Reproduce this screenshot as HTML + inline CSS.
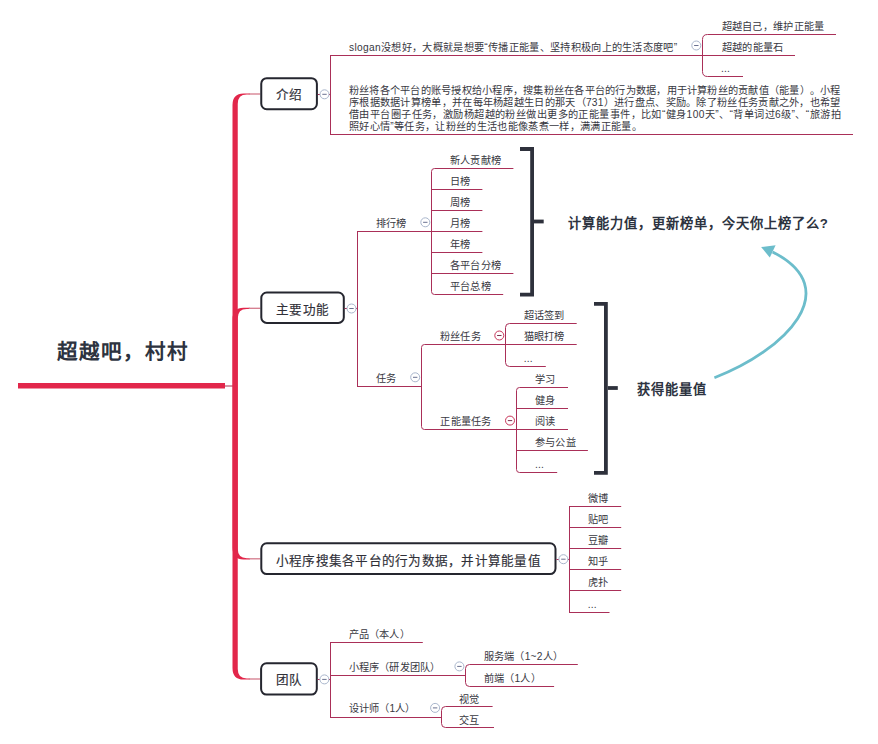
<!DOCTYPE html>
<html lang="zh-CN"><head><meta charset="utf-8"><style>
html,body{margin:0;padding:0;background:#fff;}
body{width:878px;height:744px;position:relative;overflow:hidden;font-family:"Liberation Sans",sans-serif;}
svg{position:absolute;left:0;top:0;}
.t{text-spacing-trim:space-all;position:absolute;white-space:nowrap;line-height:20px;font-size:10.2px;color:#38383f;}
.j{text-align:justify;text-align-last:justify;white-space:normal;height:20px;overflow:visible;}
</style></head><body>
<svg width="878" height="744" viewBox="0 0 878 744">
<rect x="18" y="383" width="207" height="5.5" fill="#e2274b"/>
<line x1="225" y1="386" x2="233" y2="386" stroke="#a83050" stroke-width="1"/>
<path d="M 232.5 386 V 105 Q 232.5 93.4 243.5 93.4 L 249.75 93.4 L 249.75 94.6 L 246.75 94.6 Q 237.75 94.6 237.75 104 V 386 Z" fill="#e2274b"/>
<line x1="248.75" y1="94" x2="260.3" y2="94" stroke="#d47a8c" stroke-width="1.3"/>
<path d="M 232.5 386 V 319.3 Q 232.5 307.7 243.5 307.7 L 249.75 307.7 L 249.75 308.90000000000003 L 246.75 308.90000000000003 Q 237.75 308.90000000000003 237.75 318.3 V 386 Z" fill="#e2274b"/>
<line x1="248.75" y1="308.3" x2="260.3" y2="308.3" stroke="#d47a8c" stroke-width="1.3"/>
<path d="M 232.5 386 V 547.8 Q 232.5 559.4 243.5 559.4 L 249.75 559.4 L 249.75 558.1999999999999 L 246.75 558.1999999999999 Q 237.75 558.1999999999999 237.75 548.8 V 386 Z" fill="#e2274b"/>
<line x1="248.75" y1="558.8" x2="260.3" y2="558.8" stroke="#d47a8c" stroke-width="1.3"/>
<path d="M 232.5 386 V 668 Q 232.5 679.6 243.5 679.6 L 249.75 679.6 L 249.75 678.4 L 246.75 678.4 Q 237.75 678.4 237.75 669 V 386 Z" fill="#e2274b"/>
<line x1="248.75" y1="679" x2="260.3" y2="679" stroke="#d47a8c" stroke-width="1.3"/>
<rect x="261.25" y="78.2" width="55.64999999999998" height="31.0" rx="5.5" fill="#fff" stroke="#25262f" stroke-width="2"/>
<rect x="261.3" y="292.5" width="82.5" height="30.399999999999977" rx="5.5" fill="#fff" stroke="#25262f" stroke-width="2"/>
<rect x="261.3" y="543.3" width="294.2" height="30.800000000000068" rx="5.5" fill="#fff" stroke="#25262f" stroke-width="2"/>
<rect x="261.1" y="663.3" width="55.69999999999999" height="31.300000000000068" rx="5.5" fill="#fff" stroke="#25262f" stroke-width="2"/>
<line x1="317.9" y1="94.5" x2="330" y2="94.5" stroke="#aa2f58" stroke-width="1"/>
<circle cx="324.5" cy="94.3" r="4.5" fill="#fff" stroke="#a9b6cc" stroke-width="1"/>
<line x1="322.3" y1="94.3" x2="326.7" y2="94.3" stroke="#6a7190" stroke-width="1"/>
<line x1="330.5" y1="55.5" x2="330.5" y2="135.0" stroke="#aa2f58" stroke-width="1"/>
<line x1="330.0" y1="55.5" x2="703" y2="55.5" stroke="#aa2f58" stroke-width="1"/>
<line x1="330.0" y1="134.5" x2="853" y2="134.5" stroke="#aa2f58" stroke-width="1"/>
<circle cx="696.3" cy="45.5" r="4.5" fill="#fff" stroke="#a9b6cc" stroke-width="1"/>
<line x1="694.0999999999999" y1="45.5" x2="698.5" y2="45.5" stroke="#6a7190" stroke-width="1"/>
<path d="M 836 34.5 H 707.5 Q 702.5 34.5 702.5 39.5 V 71.5 Q 702.5 76.5 707.5 76.5 H 743" stroke="#aa2f58" stroke-width="1" fill="none"/>
<line x1="702.5" y1="55.5" x2="795" y2="55.5" stroke="#aa2f58" stroke-width="1"/>
<line x1="344.8" y1="308.5" x2="357" y2="308.5" stroke="#aa2f58" stroke-width="1"/>
<circle cx="351.5" cy="308.5" r="4.5" fill="#fff" stroke="#a9b6cc" stroke-width="1"/>
<line x1="349.3" y1="308.5" x2="353.7" y2="308.5" stroke="#6a7190" stroke-width="1"/>
<line x1="357.5" y1="231.5" x2="357.5" y2="387.0" stroke="#aa2f58" stroke-width="1"/>
<line x1="357.0" y1="231.5" x2="431" y2="231.5" stroke="#aa2f58" stroke-width="1"/>
<line x1="357.0" y1="386.5" x2="421.5" y2="386.5" stroke="#aa2f58" stroke-width="1"/>
<line x1="406" y1="222.5" x2="431" y2="222.5" stroke="#aa2f58" stroke-width="0"/>
<circle cx="425.3" cy="222.3" r="4.5" fill="#fff" stroke="#a9b6cc" stroke-width="1"/>
<line x1="423.1" y1="222.3" x2="427.5" y2="222.3" stroke="#6a7190" stroke-width="1"/>
<path d="M 513.4 168.5 H 434.5 Q 431.5 168.5 431.5 171.5 V 291.5 Q 431.5 294.5 434.5 294.5 H 503.2" stroke="#aa2f58" stroke-width="1" fill="none"/>
<line x1="431.5" y1="189.5" x2="482.4" y2="189.5" stroke="#aa2f58" stroke-width="1"/>
<line x1="431.5" y1="210.5" x2="482.4" y2="210.5" stroke="#aa2f58" stroke-width="1"/>
<line x1="431.5" y1="231.5" x2="482.4" y2="231.5" stroke="#aa2f58" stroke-width="1"/>
<line x1="431.5" y1="252.5" x2="482.4" y2="252.5" stroke="#aa2f58" stroke-width="1"/>
<line x1="431.5" y1="273.5" x2="513.4" y2="273.5" stroke="#aa2f58" stroke-width="1"/>
<circle cx="415.2" cy="377.3" r="4.5" fill="#fff" stroke="#a9b6cc" stroke-width="1"/>
<line x1="413.0" y1="377.3" x2="417.4" y2="377.3" stroke="#6a7190" stroke-width="1"/>
<path d="M 505.8 344.5 H 424.5 Q 421.5 344.5 421.5 347.5 V 426.5 Q 421.5 429.5 424.5 429.5 H 516.5" stroke="#aa2f58" stroke-width="1" fill="none"/>
<circle cx="499.3" cy="335.5" r="4.5" fill="#fff" stroke="#c83458" stroke-width="1"/>
<line x1="497.1" y1="335.5" x2="501.5" y2="335.5" stroke="#7a3050" stroke-width="1"/>
<path d="M 576.7 323.5 H 509.5 Q 505.5 323.5 505.5 327.5 V 362.5 Q 505.5 366.5 509.5 366.5 H 545.8" stroke="#aa2f58" stroke-width="1" fill="none"/>
<line x1="505.5" y1="344.5" x2="576.7" y2="344.5" stroke="#aa2f58" stroke-width="1"/>
<circle cx="510" cy="420.6" r="4.5" fill="#fff" stroke="#c83458" stroke-width="1"/>
<line x1="507.8" y1="420.6" x2="512.2" y2="420.6" stroke="#7a3050" stroke-width="1"/>
<path d="M 568 387.5 H 519.5 Q 516.5 387.5 516.5 390.5 V 469.5 Q 516.5 472.5 519.5 472.5 H 557.2" stroke="#aa2f58" stroke-width="1" fill="none"/>
<line x1="516.5" y1="408.5" x2="568" y2="408.5" stroke="#aa2f58" stroke-width="1"/>
<line x1="516.5" y1="429.5" x2="568" y2="429.5" stroke="#aa2f58" stroke-width="1"/>
<line x1="516.5" y1="450.5" x2="587.9" y2="450.5" stroke="#aa2f58" stroke-width="1"/>
<path d="M 520 149.0 H 532.1 V 294.70000000000005 H 520" stroke="#2e313c" stroke-width="3.8" fill="none"/>
<line x1="534" y1="221.5" x2="543.7" y2="221.5" stroke="#2e313c" stroke-width="3.8"/>
<path d="M 594 303.9 H 605.9 V 472.8 H 594" stroke="#2e313c" stroke-width="3.8" fill="none"/>
<line x1="607.8" y1="388" x2="617.8" y2="388" stroke="#2e313c" stroke-width="3.8"/>
<path d="M 714.4 377.7 C 785.6 350.2, 846.0 289.1, 772.6 251.9" stroke="#6cbdcb" stroke-width="2.8" fill="none"/>
<path d="M 761.1 247.0 L 775.6 245.2 L 769.8 257.6 Z" fill="#6cbdcb"/>
<line x1="556.5" y1="559.5" x2="569.5" y2="559.5" stroke="#aa2f58" stroke-width="1"/>
<circle cx="563.4" cy="559.2" r="4.5" fill="#fff" stroke="#a9b6cc" stroke-width="1"/>
<line x1="561.1999999999999" y1="559.2" x2="565.6" y2="559.2" stroke="#6a7190" stroke-width="1"/>
<line x1="569.5" y1="506.5" x2="569.5" y2="613.0" stroke="#aa2f58" stroke-width="1"/>
<line x1="569.0" y1="506.5" x2="621.2" y2="506.5" stroke="#aa2f58" stroke-width="1"/>
<line x1="569.0" y1="527.5" x2="621.2" y2="527.5" stroke="#aa2f58" stroke-width="1"/>
<line x1="569.0" y1="548.5" x2="621.2" y2="548.5" stroke="#aa2f58" stroke-width="1"/>
<line x1="569.0" y1="569.5" x2="621.2" y2="569.5" stroke="#aa2f58" stroke-width="1"/>
<line x1="569.0" y1="590.5" x2="621.2" y2="590.5" stroke="#aa2f58" stroke-width="1"/>
<line x1="569.0" y1="612.5" x2="609.5" y2="612.5" stroke="#aa2f58" stroke-width="1"/>
<line x1="317.8" y1="679.5" x2="330.5" y2="679.5" stroke="#aa2f58" stroke-width="1"/>
<circle cx="324.4" cy="679.4" r="4.5" fill="#fff" stroke="#a9b6cc" stroke-width="1"/>
<line x1="322.2" y1="679.4" x2="326.59999999999997" y2="679.4" stroke="#6a7190" stroke-width="1"/>
<line x1="330.5" y1="642.5" x2="330.5" y2="718.0" stroke="#aa2f58" stroke-width="1"/>
<line x1="330.0" y1="642.5" x2="422.8" y2="642.5" stroke="#aa2f58" stroke-width="1"/>
<line x1="330.0" y1="675.5" x2="465.5" y2="675.5" stroke="#aa2f58" stroke-width="1"/>
<line x1="330.0" y1="717.5" x2="441.2" y2="717.5" stroke="#aa2f58" stroke-width="1"/>
<circle cx="459.4" cy="666.4" r="4.5" fill="#fff" stroke="#a9b6cc" stroke-width="1"/>
<line x1="457.2" y1="666.4" x2="461.59999999999997" y2="666.4" stroke="#6a7190" stroke-width="1"/>
<path d="M 577.8 664.5 H 469.5 Q 465.5 664.5 465.5 668.5 V 682.5 Q 465.5 686.5 469.5 686.5 H 554.1" stroke="#aa2f58" stroke-width="1" fill="none"/>
<circle cx="435.1" cy="707.9" r="4.5" fill="#fff" stroke="#a9b6cc" stroke-width="1"/>
<line x1="432.90000000000003" y1="707.9" x2="437.3" y2="707.9" stroke="#6a7190" stroke-width="1"/>
<path d="M 492.6 706.5 H 445.5 Q 441.5 706.5 441.5 710.5 V 723.5 Q 441.5 727.5 445.5 727.5 H 494" stroke="#aa2f58" stroke-width="1" fill="none"/>
</svg>
<div class="t" style="left:57px;top:342.1px;font-size:20.5px;font-weight:700;color:#2d3340;letter-spacing:2.1px;">超越吧，村村</div>
<div class="t" style="left:276.1px;top:84.8px;font-size:12.6px;font-weight:500;color:#303038;letter-spacing:0.25px;-webkit-text-stroke:0.15px #303038">介绍</div>
<div class="t" style="left:276.2px;top:300.0px;font-size:12.6px;font-weight:500;color:#303038;letter-spacing:0.25px;-webkit-text-stroke:0.15px #303038">主要功能</div>
<div class="t" style="left:275.8px;top:550.9px;font-size:12.6px;font-weight:500;color:#303038;letter-spacing:0.25px;-webkit-text-stroke:0.15px #303038">小程序搜集各平台的行为数据，并计算能量值</div>
<div class="t" style="left:275.8px;top:669.9px;font-size:12.6px;font-weight:500;color:#303038;letter-spacing:0.25px;-webkit-text-stroke:0.15px #303038">团队</div>
<div class="t" style="left:349px;top:38.0px;font-size:10.2px;font-weight:400;color:#38383f;letter-spacing:0.325px;">slogan没想好，大概就是想要“传播正能量、坚持积极向上的生活态度吧”</div>
<div class="t" style="left:721.5px;top:16.9px;font-size:10.2px;font-weight:400;color:#38383f;letter-spacing:0.33px;">超越自己，维护正能量</div>
<div class="t" style="left:721.5px;top:38.0px;font-size:10.2px;font-weight:400;color:#38383f;letter-spacing:0.4px;">超越的能量石</div>
<div class="t" style="left:721px;top:59.0px;font-size:10.2px;font-weight:400;color:#38383f;letter-spacing:0.2px;">...</div>
<div class="t" style="left:349px;top:80.9px;font-size:10.2px;font-weight:400;color:#38383f;letter-spacing:0.242px;">粉丝将各个平台的账号授权给小程序，搜集粉丝在各平台的行为数据，用于计算粉丝的贡献值（能量）。小程</div>
<div class="t" style="left:349px;top:92.97px;font-size:10.2px;font-weight:400;color:#38383f;letter-spacing:0.3px;">序根据数据计算榜单，并在每年杨超越生日的那天（731）进行盘点、奖励。除了粉丝任务贡献之外，也希望</div>
<div class="t" style="left:349px;top:105.04px;font-size:10.2px;font-weight:400;color:#38383f;letter-spacing:0.43px;">借由平台圈子任务，激励杨超越的粉丝做出更多的正能量事件，比如“健身100天”、“背单词过6级”、“旅游拍</div>
<div class="t" style="left:349px;top:117.11000000000001px;font-size:10.2px;font-weight:400;color:#38383f;letter-spacing:0.33px;">照好心情”等任务，让粉丝的生活也能像蒸煮一样，满满正能量。</div>
<div class="t" style="left:376px;top:213.7px;font-size:10.2px;font-weight:400;color:#38383f;letter-spacing:0.2px;">排行榜</div>
<div class="t" style="left:450px;top:150.5px;font-size:10.2px;font-weight:400;color:#38383f;letter-spacing:0.2px;">新人贡献榜</div>
<div class="t" style="left:450px;top:171.5px;font-size:10.2px;font-weight:400;color:#38383f;letter-spacing:0.2px;">日榜</div>
<div class="t" style="left:450px;top:192.5px;font-size:10.2px;font-weight:400;color:#38383f;letter-spacing:0.2px;">周榜</div>
<div class="t" style="left:450px;top:213.5px;font-size:10.2px;font-weight:400;color:#38383f;letter-spacing:0.2px;">月榜</div>
<div class="t" style="left:450px;top:234.5px;font-size:10.2px;font-weight:400;color:#38383f;letter-spacing:0.2px;">年榜</div>
<div class="t" style="left:450px;top:255.5px;font-size:10.2px;font-weight:400;color:#38383f;letter-spacing:0.2px;">各平台分榜</div>
<div class="t" style="left:450px;top:276.5px;font-size:10.2px;font-weight:400;color:#38383f;letter-spacing:0.2px;">平台总榜</div>
<div class="t" style="left:376px;top:368.8px;font-size:10.2px;font-weight:400;color:#38383f;letter-spacing:0.2px;">任务</div>
<div class="t" style="left:440px;top:327.2px;font-size:10.2px;font-weight:400;color:#38383f;letter-spacing:0.2px;">粉丝任务</div>
<div class="t" style="left:523.8px;top:305.5px;font-size:10.2px;font-weight:400;color:#38383f;letter-spacing:0.2px;">超话签到</div>
<div class="t" style="left:523.8px;top:326.5px;font-size:10.2px;font-weight:400;color:#38383f;letter-spacing:0.2px;">猫眼打榜</div>
<div class="t" style="left:523.8px;top:348.5px;font-size:10.2px;font-weight:400;color:#38383f;letter-spacing:0.2px;">...</div>
<div class="t" style="left:440.4px;top:412.1px;font-size:10.2px;font-weight:400;color:#38383f;letter-spacing:0.2px;">正能量任务</div>
<div class="t" style="left:535px;top:369.5px;font-size:10.2px;font-weight:400;color:#38383f;letter-spacing:0.2px;">学习</div>
<div class="t" style="left:535px;top:390.5px;font-size:10.2px;font-weight:400;color:#38383f;letter-spacing:0.2px;">健身</div>
<div class="t" style="left:535px;top:411.5px;font-size:10.2px;font-weight:400;color:#38383f;letter-spacing:0.2px;">阅读</div>
<div class="t" style="left:535px;top:432.5px;font-size:10.2px;font-weight:400;color:#38383f;letter-spacing:0.2px;">参与公益</div>
<div class="t" style="left:535px;top:454.5px;font-size:10.2px;font-weight:400;color:#38383f;letter-spacing:0.2px;">...</div>
<div class="t" style="left:567.8px;top:214.0px;font-size:13.2px;font-weight:700;color:#2d3340;letter-spacing:1.0px;">计算能力值，更新榜单，今天你上榜了么?</div>
<div class="t" style="left:636.6px;top:380.4px;font-size:13.2px;font-weight:700;color:#2d3340;letter-spacing:1.0px;">获得能量值</div>
<div class="t" style="left:587.8px;top:488.5px;font-size:10.2px;font-weight:400;color:#38383f;letter-spacing:0.2px;">微博</div>
<div class="t" style="left:587.8px;top:509.5px;font-size:10.2px;font-weight:400;color:#38383f;letter-spacing:0.2px;">贴吧</div>
<div class="t" style="left:587.8px;top:530.5px;font-size:10.2px;font-weight:400;color:#38383f;letter-spacing:0.2px;">豆瓣</div>
<div class="t" style="left:587.8px;top:551.5px;font-size:10.2px;font-weight:400;color:#38383f;letter-spacing:0.2px;">知乎</div>
<div class="t" style="left:587.8px;top:572.5px;font-size:10.2px;font-weight:400;color:#38383f;letter-spacing:0.2px;">虎扑</div>
<div class="t" style="left:587.8px;top:594.5px;font-size:10.2px;font-weight:400;color:#38383f;letter-spacing:0.2px;">...</div>
<div class="t" style="left:348.6px;top:625.0px;font-size:10.2px;font-weight:400;color:#38383f;letter-spacing:0.2px;">产品（本人）</div>
<div class="t" style="left:348.6px;top:657.9px;font-size:10.2px;font-weight:400;color:#38383f;letter-spacing:0.2px;">小程序（研发团队）</div>
<div class="t" style="left:483.9px;top:646.5px;font-size:10.2px;font-weight:400;color:#38383f;letter-spacing:0.2px;">服务端（1~2人）</div>
<div class="t" style="left:483.9px;top:668.9px;font-size:10.2px;font-weight:400;color:#38383f;letter-spacing:0.2px;">前端（1人）</div>
<div class="t" style="left:348.6px;top:699.4px;font-size:10.2px;font-weight:400;color:#38383f;letter-spacing:0.2px;">设计师（1人）</div>
<div class="t" style="left:459.3px;top:689.5px;font-size:10.2px;font-weight:400;color:#38383f;letter-spacing:0.2px;">视觉</div>
<div class="t" style="left:459.3px;top:711.0px;font-size:10.2px;font-weight:400;color:#38383f;letter-spacing:0.2px;">交互</div>
</body></html>
